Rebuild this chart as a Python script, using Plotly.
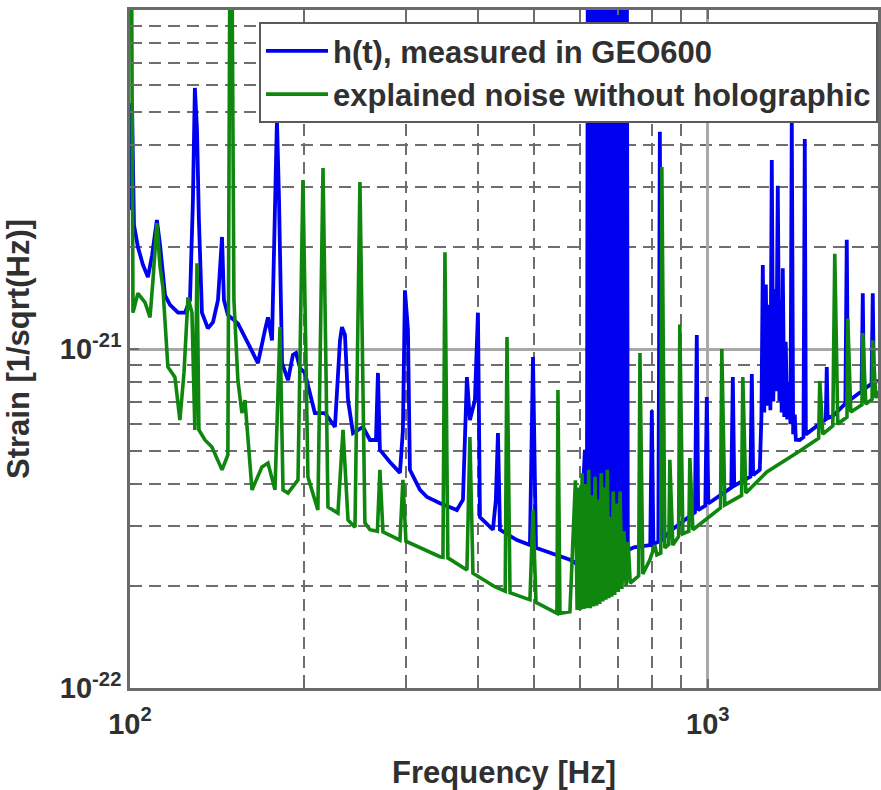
import plotly.graph_objects as go

# ---------------- data ----------------
# frequencies in Hz, strain amplitude in units of 1e-22 1/sqrt(Hz)
STRAIN_UNIT = 1e-22

blue_freq = [100.0, 100.8, 101.6, 103.2, 105.3, 107.4, 109.2, 111.3, 112.7, 115.0,
             117.3, 121.1, 124.5, 127.0, 128.5, 129.5, 130.6, 131.6, 133.2, 136.4,
             139.2, 142.0, 144.3, 145.4, 147.7, 153.7, 160.0, 166.5, 171.3, 173.3,
             176.1, 178.2, 179.6, 181.1, 183.3, 187.7, 191.4, 193.8, 196.9, 200.8,
             204.8, 208.9, 217.5, 226.3, 230.9, 232.7, 235.5, 238.4, 243.2, 253.0,
             260.2, 266.5, 268.6, 270.7, 281.7, 293.2, 296.7, 299.1, 302.7, 305.1,
             317.6, 326.6, 343.9, 367.9, 376.9, 382.9, 387.5, 395.3, 400.1, 403.3,
             424.7, 429.7, 433.3, 436.8, 467.4, 492.2, 498.2, 504.2, 518.4, 554.7,
             577.2, 588.8, 600.6, 612.7, 617.6,
             620, 624, 628, 632, 636, 640, 644, 648, 652, 656, 660, 664, 668, 672,
             676, 680, 684, 688, 692, 696, 700, 704, 708, 712, 716, 720, 724, 727,
             745, 770, 795, 800, 805, 821, 826, 831, 860, 905, 950, 957, 962, 990,
             996, 1002, 1049, 1098, 1104.7, 1111, 1185, 1191.6, 1198, 1230, 1238,
             1244.9, 1252, 1260, 1268, 1276, 1283, 1290.3, 1298, 1305.8, 1313,
             1321.5, 1330, 1337.4, 1342, 1348.1, 1356, 1364, 1372, 1382, 1390,
             1397.3, 1405, 1414, 1420, 1442, 1464, 1471.6, 1478, 1560, 1600, 1606.4,
             1612, 1645, 1730, 1739.6, 1748, 1845, 1854.2, 1862, 1920, 1929.5, 1938,
             1990]
blue_strain = [25.7, 53.2, 23.2, 20.0, 17.7, 16.3, 18.9, 24.0, 20.3, 14.4,
               13.5, 12.8, 12.8, 13.95, 27.5, 58.9, 44.3, 24.0, 12.8, 11.5,
               12.0, 13.95, 21.4, 13.95, 12.6, 11.9, 10.4, 9.09, 11.4, 12.4,
               10.6, 27.5, 47.4, 27.5, 9.09, 8.10, 9.60, 9.73, 8.79, 8.50,
               7.31, 6.47, 6.47, 5.89, 10.6, 11.6, 11.0, 7.07, 5.65, 5.89,
               5.39, 5.39, 8.50, 5.04, 4.64, 4.31, 5.77, 14.9, 11.4, 4.40,
               3.84, 3.66, 3.51, 3.35, 3.59, 8.26, 6.17, 7.07, 12.8, 3.19,
               2.93, 3.59, 5.65, 2.93, 2.73, 2.64, 9.47, 2.59, 2.55, 2.45,
               2.39, 2.34, 2.42, 5.04, 2.73,
               200, 2.55, 200, 2.5, 200, 2.6, 200, 2.5, 200, 2.55, 200, 2.5, 200, 2.45,
               200, 2.5, 200, 2.45, 200, 2.5, 200, 2.45, 200, 2.45, 200, 2.5, 200, 2.55,
               2.6, 2.62, 2.64, 6.6, 2.66, 2.7, 43.7, 2.72, 2.9, 3.1, 3.3, 11.0, 3.35, 3.45,
               7.22, 3.5, 3.7, 3.9, 8.26, 3.95, 4.2, 8.44, 4.25, 4.4, 6.3,
               17.7, 6.5, 15.5, 6.8, 13.5, 6.6, 36.1, 7.0, 15.0, 7.5,
               30.3, 7.0, 14.0, 6.5, 17.3, 6.3, 10.5, 6.2, 8.0, 6.0,
               47.7, 5.6, 6.4, 5.4, 5.39, 5.5, 41.6, 5.6, 6.0, 6.2, 8.85,
               6.25, 6.34, 6.9, 21.0, 7.0, 7.5, 14.6, 7.6, 7.9, 14.6, 7.95,
               8.10]

green_freq = [100.0, 100.6, 101.2, 103.2, 106.2, 108.3, 109.6, 111.3, 112.7, 114.0,
              116.3, 119.6, 122.0, 124.0, 126.0, 128.0, 129.5, 130.6, 131.6, 134.8,
              138.6, 144.3, 147.7, 148.9, 150.1, 151.3, 153.7, 156.2, 158.1, 162.6,
              169.2, 173.3, 178.2, 181.8, 184.0, 187.7, 195.3, 199.2, 203.2, 211.4,
              215.8, 220.1, 229.0, 233.7, 238.4, 245.1, 250.0, 255.0, 260.2, 268.0,
              270.7, 274.0, 293.2, 296.7, 300.3, 317.6, 343.9, 348.0, 350.8, 354.9,
              382.9, 387.5, 392.2, 428.0, 446.0, 449.2, 454.6, 492.2, 498.2, 504.2,
              548.1, 550.3, 554.7, 577.2, 590.0, 594.0, 598.0, 602.0, 606.0, 610.0,
              614.0, 618.0, 622.0, 626.0, 630.0, 634.0, 638.0, 642.0, 646.0, 650.0,
              654.0, 658.0, 662.0, 666.0, 670.0, 674.0, 678.0, 682.0, 686.0, 690.0,
              695.0, 700.0, 705.0, 710.0, 716.0, 722.0, 728.0, 734.0,
              750.7, 759.0, 763.0, 771.9, 793.7, 809.6, 816.2, 829.0,
              832.6, 842.6, 856.0, 859.5, 869.8, 890.0, 894.4, 905.2, 927.0, 930.9,
              942.2, 1008.0, 1052.0, 1057.3, 1070.0, 1144.0, 1149.6, 1163.4, 1264.9,
              1442.5, 1555.0, 1562.2, 1581.0, 1645.3, 1658.4, 1678.4, 1741.0, 1746.6,
              1767.6, 1848.0, 1854.2, 1876.5, 1924.0, 1929.5, 1952.7, 1990.0]
green_strain = [150, 150, 12.8, 14.6, 13.7, 12.4, 16.0, 23.5, 17.5, 15.2,
                8.85, 8.26, 6.17, 8.50, 14.2, 12.8, 5.77, 17.9, 5.77, 5.39,
                5.14, 4.40, 4.87, 150, 150, 13.95, 8.10, 6.47, 7.07, 3.84,
                4.49, 4.61, 3.84, 11.6, 3.84, 3.76, 4.11, 31.5, 4.19, 3.35,
                34.2, 3.42, 3.28, 5.77, 3.13, 2.98, 31.1, 3.07, 2.93, 2.90,
                4.40, 2.89, 2.73, 4.11, 2.71, 2.59, 2.44, 2.43, 19.3, 2.42,
                2.23, 5.50, 2.18, 1.99, 1.93, 10.85, 1.91, 1.82, 3.35, 1.79,
                1.66, 7.57, 1.66, 1.68, 4.1, 1.70, 3.9, 1.70, 4.3, 1.71,
                4.0, 1.72, 4.4, 1.72, 3.7, 1.74, 4.2, 1.75, 3.6, 1.77,
                4.3, 1.80, 3.9, 1.82, 4.4, 1.84, 3.2, 1.86, 3.8, 1.88,
                3.5, 1.92, 3.8, 1.96, 2.9, 2.00, 2.7, 2.04,
                2.11, 2.14, 9.73, 2.17, 2.39, 2.64, 2.47, 2.50,
                34.4, 2.59, 2.65, 4.71, 2.64, 2.80, 11.8, 2.85, 2.90, 4.77,
                2.93, 3.22, 3.40, 10.0, 3.47, 3.70, 8.26, 3.76, 4.34,
                5.00, 5.45, 8.05, 5.61, 5.93, 19.1, 6.01, 6.30, 12.3,
                6.52, 6.85, 11.15, 6.88, 7.10, 10.6, 7.17, 7.62]

blue_name = "h(t), measured in GEO600"
green_name = "explained noise without holographic"

# axis ticks / grid values
x_major_ticks = [100, 1000]
x_major_labels = ["10<sup>2</sup>", "10<sup>3</sup>"]
x_minor_grid = [200, 300, 400, 500, 600, 700, 800, 900]
y_major_ticks = [1e-22, 1e-21]
y_major_labels = ["10<sup>-22</sup>", "10<sup>-21</sup>"]
y_minor_grid = [2e-22, 3e-22, 4e-22, 5e-22, 6e-22, 7e-22, 8e-22, 9e-22,
                2e-21, 3e-21, 4e-21, 5e-21, 6e-21, 7e-21, 8e-21, 9e-21]

# ---------------- figure ----------------
FONT = "Arial, Liberation Sans, sans-serif"
TXT = "#303030"

fig = go.Figure()
fig.add_trace(go.Scatter(
    x=blue_freq, y=[v * STRAIN_UNIT for v in blue_strain], name=blue_name,
    mode="lines", line=dict(color="#0000f0", width=3.8)))
fig.add_trace(go.Scatter(
    x=green_freq, y=[v * STRAIN_UNIT for v in green_strain], name=green_name,
    mode="lines", line=dict(color="#0f870f", width=3.6)))

axis_common = dict(
    showline=True, linecolor="#6a6a6a", linewidth=2.5, mirror="ticks",
    ticks="inside", ticklen=9, tickwidth=2, tickcolor="#6a6a6a",
    showgrid=True, gridcolor="#a8a8a8", gridwidth=2.5,
    zeroline=False, tickmode="array",
    tickfont=dict(family=FONT, size=29, color=TXT, weight="bold"),
)
minor_common = dict(
    tickmode="array", ticks="inside", ticklen=5, tickwidth=1.5, tickcolor="#6a6a6a",
    showgrid=True, gridcolor="#6e6e6e", gridwidth=2, griddash="12px,7px",
)

fig.update_xaxes(
    type="log", range=[2, 3.2945],
    tickvals=x_major_ticks, ticktext=x_major_labels, ticklabelstandoff=8,
    minor=dict(tickvals=x_minor_grid, **minor_common),
    title=dict(text="Frequency [Hz]", standoff=24,
               font=dict(family=FONT, size=31, color=TXT, weight="bold")),
    **axis_common)
fig.update_yaxes(
    type="log", range=[-22, -20],
    tickvals=y_major_ticks, ticktext=y_major_labels,
    minor=dict(tickvals=y_minor_grid, **minor_common),
    title=dict(text="Strain [1/sqrt(Hz)]", standoff=22,
               font=dict(family=FONT, size=31, color=TXT, weight="bold")),
    **axis_common)

fig.update_layout(
    width=881, height=790,
    margin=dict(l=130, r=3, t=10, b=102, autoexpand=False),
    paper_bgcolor="white", plot_bgcolor="white",
    showlegend=True,
    legend=dict(
        x=1.0, xanchor="right", y=0.982, yanchor="top",
        bgcolor="white", bordercolor="#5a5a5a", borderwidth=2,
        font=dict(family=FONT, size=31, color=TXT, weight="bold"),
        itemwidth=62, tracegroupgap=0,
    ),
)

fig.write_html(
    "out.html",
    config={"displayModeBar": False},
    post_script="document.body.style.margin='0';document.body.style.overflow='hidden';",
)
